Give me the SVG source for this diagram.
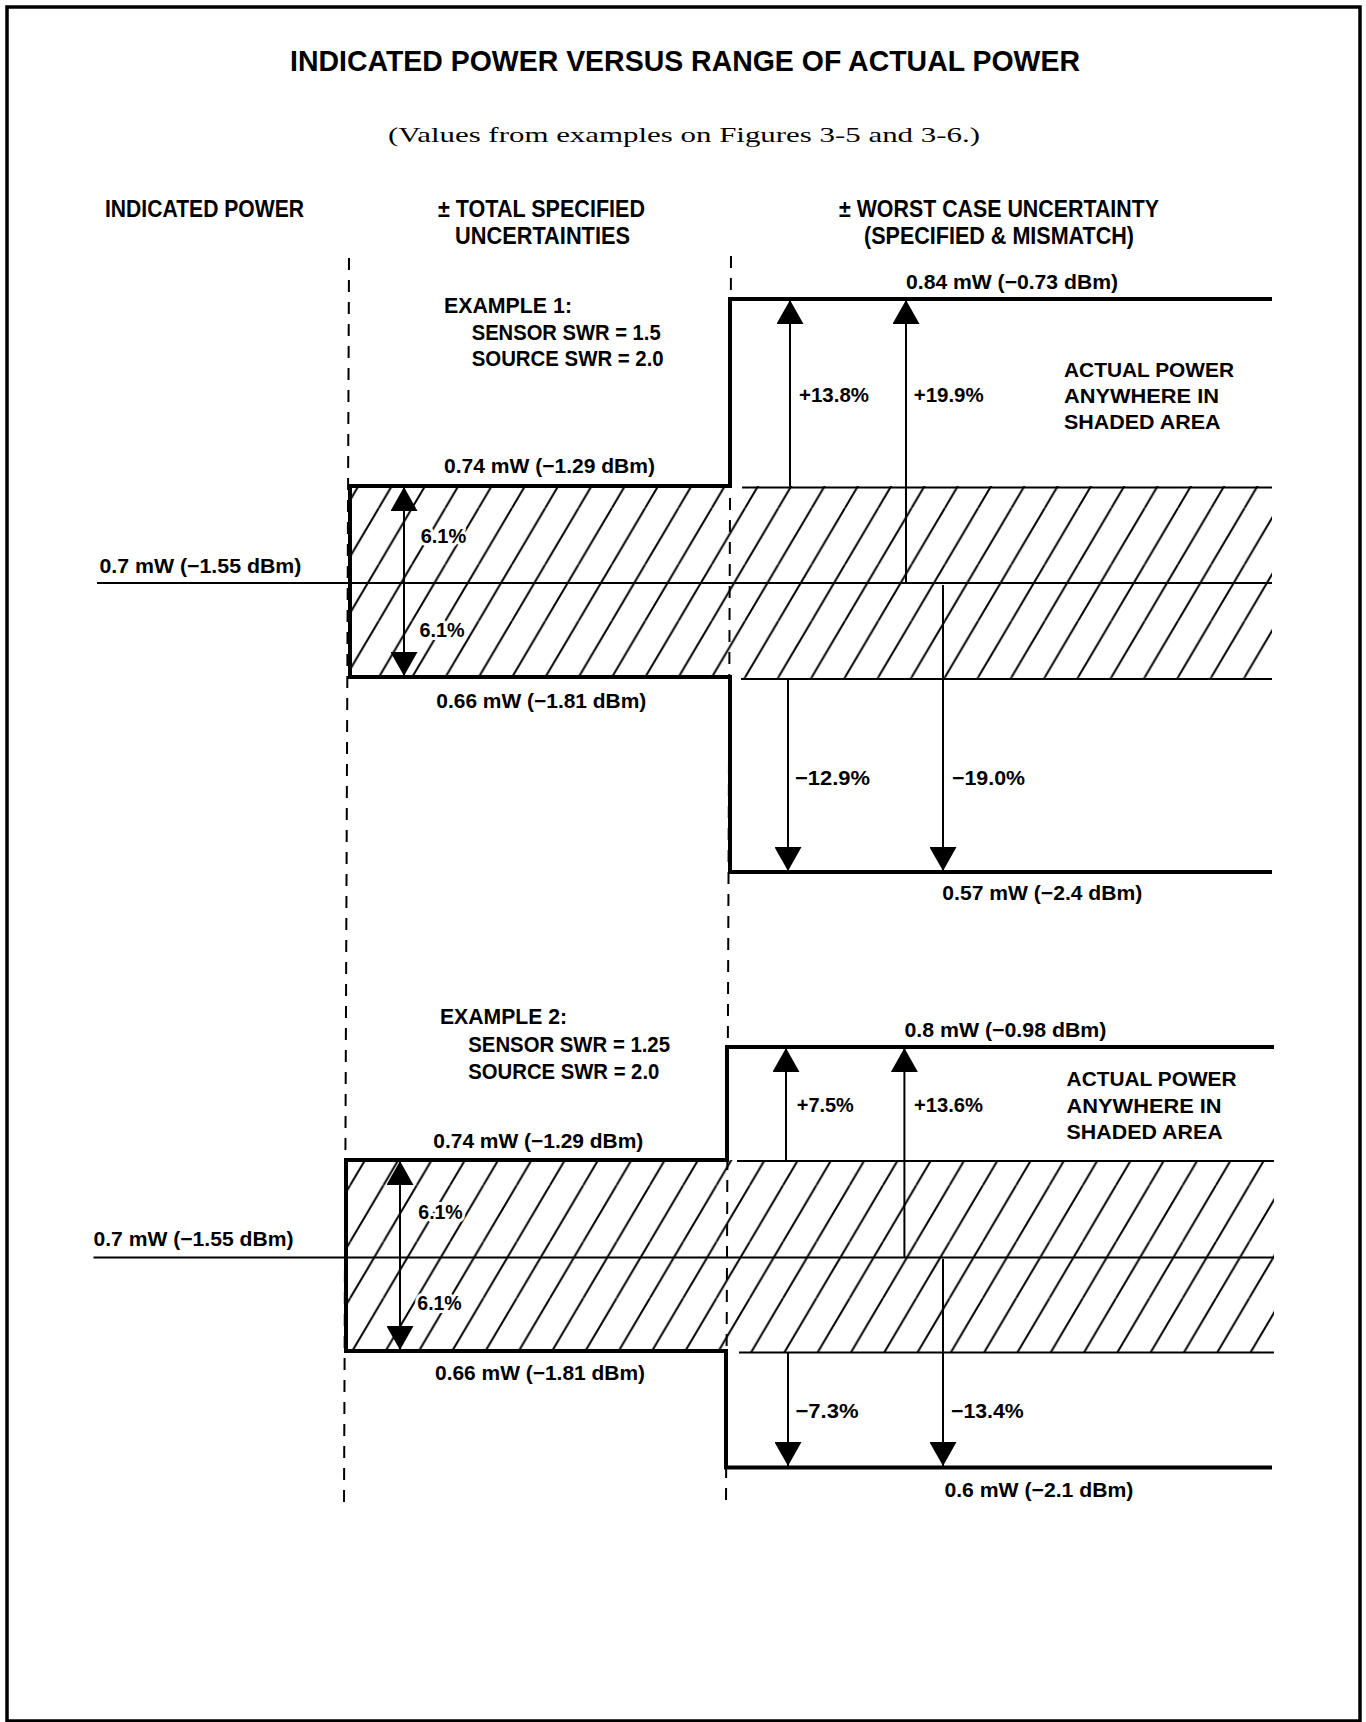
<svg xmlns="http://www.w3.org/2000/svg" width="1366" height="1722" viewBox="0 0 1366 1722">
<style>
.t{font-family:"Liberation Sans",Arial,sans-serif;font-weight:bold;fill:#000}
.h{font-size:23px}
.l{font-size:21px}
.e{font-size:22px}
.ttl{font-size:30px}
.s{font-family:"Liberation Serif","Times New Roman",serif;font-size:22px;fill:#000}
.bg{stroke:#fff;stroke-width:6px;paint-order:stroke;stroke-linejoin:round}
.thick{fill:none;stroke:#000;stroke-width:4;stroke-linejoin:miter}
.thin{fill:none;stroke:#000;stroke-width:2}
.dash{fill:none;stroke:#000;stroke-width:2;stroke-dasharray:12 10}
.arr{fill:none;stroke:#000;stroke-width:2;marker-end:url(#ah)}
.darr{fill:none;stroke:#000;stroke-width:2;marker-end:url(#ah);marker-start:url(#ahs)}
</style>
<defs>
<marker id="ah" viewBox="0 0 24 27" refX="24" refY="13.5" markerWidth="24" markerHeight="27" markerUnits="userSpaceOnUse" orient="auto">
<path d="M0,0 L24,13.5 L0,27 Z" fill="#000"/>
</marker>
<marker id="ahs" viewBox="0 0 24 27" refX="24" refY="13.5" markerWidth="24" markerHeight="27" markerUnits="userSpaceOnUse" orient="auto-start-reverse">
<path d="M0,0 L24,13.5 L0,27 Z" fill="#000"/>
</marker>
<pattern id="hatch1" patternUnits="userSpaceOnUse" x="12.5" y="0" width="33.3" height="56.44">
<path d="M-33.3,56.44 L0,0 M0,56.44 L33.3,0 M33.3,56.44 L66.6,0" stroke="#000" stroke-width="2" fill="none"/>
</pattern>
<pattern id="hatch2" patternUnits="userSpaceOnUse" x="17.2" y="0" width="33.3" height="56.44">
<path d="M-33.3,56.44 L0,0 M0,56.44 L33.3,0 M33.3,56.44 L66.6,0" stroke="#000" stroke-width="2" fill="none"/>
</pattern>
</defs>
<rect width="1366" height="1722" fill="#fff"/>
<g id="frame">
<rect x="7" y="7" width="1353" height="1714" fill="none" stroke="#000" stroke-width="3.5"/>
</g>
<g id="title">
<text class="t ttl" x="290" y="71" textLength="790" lengthAdjust="spacingAndGlyphs">INDICATED POWER VERSUS RANGE OF ACTUAL POWER</text>
<text class="s" x="388" y="141.5" textLength="592" lengthAdjust="spacingAndGlyphs">(Values from examples on Figures 3-5 and 3-6.)</text>
</g>
<g id="headers">
<text class="t h" x="105" y="217" textLength="199" lengthAdjust="spacingAndGlyphs">INDICATED POWER</text>
<text class="t h" x="438" y="217" textLength="207" lengthAdjust="spacingAndGlyphs">± TOTAL SPECIFIED</text>
<text class="t h" x="455" y="244" textLength="175" lengthAdjust="spacingAndGlyphs">UNCERTAINTIES</text>
<text class="t h" x="839" y="217" textLength="320" lengthAdjust="spacingAndGlyphs">± WORST CASE UNCERTAINTY</text>
<text class="t h" x="864" y="244" textLength="270" lengthAdjust="spacingAndGlyphs">(SPECIFIED &amp; MISMATCH)</text>
</g>
<g id="column-dividers">
<line class="dash" x1="349" y1="258" x2="344" y2="1506"/>
<line class="dash" x1="731" y1="256" x2="726" y2="1505"/>
</g>
<g id="example1">
<rect x="350" y="486" width="922" height="193" fill="url(#hatch1)"/>
<path class="thin" d="M742,487.5 H1272 M97,583 H1272 M741,679 H1272"/>
<path class="thick" d="M1272,299 H730 V486 H350 V677 H730 V872 H1272"/>
<text class="t e" x="444" y="312.5" textLength="128" lengthAdjust="spacingAndGlyphs">EXAMPLE 1:</text>
<text class="t e" x="471.7" y="339.5" textLength="189" lengthAdjust="spacingAndGlyphs">SENSOR SWR = 1.5</text>
<text class="t e" x="471.7" y="366" textLength="192" lengthAdjust="spacingAndGlyphs">SOURCE SWR = 2.0</text>
<text class="t l" x="444" y="473" textLength="211" lengthAdjust="spacingAndGlyphs">0.74 mW (−1.29 dBm)</text>
<text class="t l bg" x="420.7" y="543" textLength="45.6" lengthAdjust="spacingAndGlyphs">6.1%</text>
<text class="t l bg" x="419.5" y="636.7" textLength="45" lengthAdjust="spacingAndGlyphs">6.1%</text>
<text class="t l" x="436.3" y="707.5" textLength="210" lengthAdjust="spacingAndGlyphs">0.66 mW (−1.81 dBm)</text>
<text class="t l" x="99.4" y="572.7" textLength="202" lengthAdjust="spacingAndGlyphs">0.7 mW (−1.55 dBm)</text>
<text class="t l" x="906" y="289.3" textLength="212" lengthAdjust="spacingAndGlyphs">0.84 mW (−0.73 dBm)</text>
<text class="t l" x="799" y="401.7" textLength="70" lengthAdjust="spacingAndGlyphs">+13.8%</text>
<text class="t l" x="913.7" y="401.7" textLength="70" lengthAdjust="spacingAndGlyphs">+19.9%</text>
<text class="t l" x="1064" y="376.7" textLength="170" lengthAdjust="spacingAndGlyphs">ACTUAL POWER</text>
<text class="t l" x="1064" y="403.3" textLength="155" lengthAdjust="spacingAndGlyphs">ANYWHERE IN</text>
<text class="t l" x="1064" y="429.3" textLength="156.5" lengthAdjust="spacingAndGlyphs">SHADED AREA</text>
<text class="t l" x="795" y="785" textLength="75" lengthAdjust="spacingAndGlyphs">−12.9%</text>
<text class="t l" x="952" y="785" textLength="73" lengthAdjust="spacingAndGlyphs">−19.0%</text>
<text class="t l" x="942.3" y="900" textLength="200" lengthAdjust="spacingAndGlyphs">0.57 mW (−2.4 dBm)</text>
</g>
<g id="example2">
<rect x="346" y="1160" width="928" height="193" fill="url(#hatch2)"/>
<path class="thin" d="M737,1161 H1274 M93.5,1257.5 H1274 M739,1352.5 H1274"/>
<path class="thick" d="M1274,1047 H727 V1160 H346 V1351 H726 V1467.5 H1272"/>
<text class="t e" x="440" y="1024" textLength="127" lengthAdjust="spacingAndGlyphs">EXAMPLE 2:</text>
<text class="t e" x="468.3" y="1052.3" textLength="201.7" lengthAdjust="spacingAndGlyphs">SENSOR SWR = 1.25</text>
<text class="t e" x="468.3" y="1079.3" textLength="191" lengthAdjust="spacingAndGlyphs">SOURCE SWR = 2.0</text>
<text class="t l" x="433.3" y="1148.3" textLength="210" lengthAdjust="spacingAndGlyphs">0.74 mW (−1.29 dBm)</text>
<text class="t l bg" x="418.3" y="1219.3" textLength="44.4" lengthAdjust="spacingAndGlyphs">6.1%</text>
<text class="t l bg" x="417.3" y="1310" textLength="44.4" lengthAdjust="spacingAndGlyphs">6.1%</text>
<text class="t l" x="435" y="1380" textLength="210" lengthAdjust="spacingAndGlyphs">0.66 mW (−1.81 dBm)</text>
<text class="t l" x="93.5" y="1246" textLength="200" lengthAdjust="spacingAndGlyphs">0.7 mW (−1.55 dBm)</text>
<text class="t l" x="904.4" y="1037.3" textLength="202" lengthAdjust="spacingAndGlyphs">0.8 mW (−0.98 dBm)</text>
<text class="t l" x="796.8" y="1111.7" textLength="57" lengthAdjust="spacingAndGlyphs">+7.5%</text>
<text class="t l" x="914" y="1111.7" textLength="69" lengthAdjust="spacingAndGlyphs">+13.6%</text>
<text class="t l" x="1066.6" y="1086" textLength="170" lengthAdjust="spacingAndGlyphs">ACTUAL POWER</text>
<text class="t l" x="1066.6" y="1113.3" textLength="155" lengthAdjust="spacingAndGlyphs">ANYWHERE IN</text>
<text class="t l" x="1066.6" y="1139.3" textLength="156" lengthAdjust="spacingAndGlyphs">SHADED AREA</text>
<text class="t l" x="795.5" y="1418.3" textLength="63" lengthAdjust="spacingAndGlyphs">−7.3%</text>
<text class="t l" x="951" y="1418.3" textLength="72.7" lengthAdjust="spacingAndGlyphs">−13.4%</text>
<text class="t l" x="944.4" y="1497.3" textLength="189" lengthAdjust="spacingAndGlyphs">0.6 mW (−2.1 dBm)</text>
</g>
<g id="connectors">
<line class="darr" x1="404" y1="487" x2="404" y2="676"/>
<line class="arr" x1="790" y1="487" x2="790" y2="300"/>
<line class="arr" x1="906" y1="583" x2="906" y2="300"/>
<line class="arr" x1="788" y1="679" x2="788" y2="871"/>
<line class="arr" x1="943" y1="585" x2="943" y2="871"/>
<line class="darr" x1="400" y1="1161" x2="400" y2="1350"/>
<line class="arr" x1="786" y1="1160" x2="786" y2="1048"/>
<line class="arr" x1="904.4" y1="1258" x2="904.4" y2="1048"/>
<line class="arr" x1="788" y1="1352" x2="788" y2="1466"/>
<line class="arr" x1="943" y1="1259" x2="943" y2="1466"/>
</g>
</svg>
